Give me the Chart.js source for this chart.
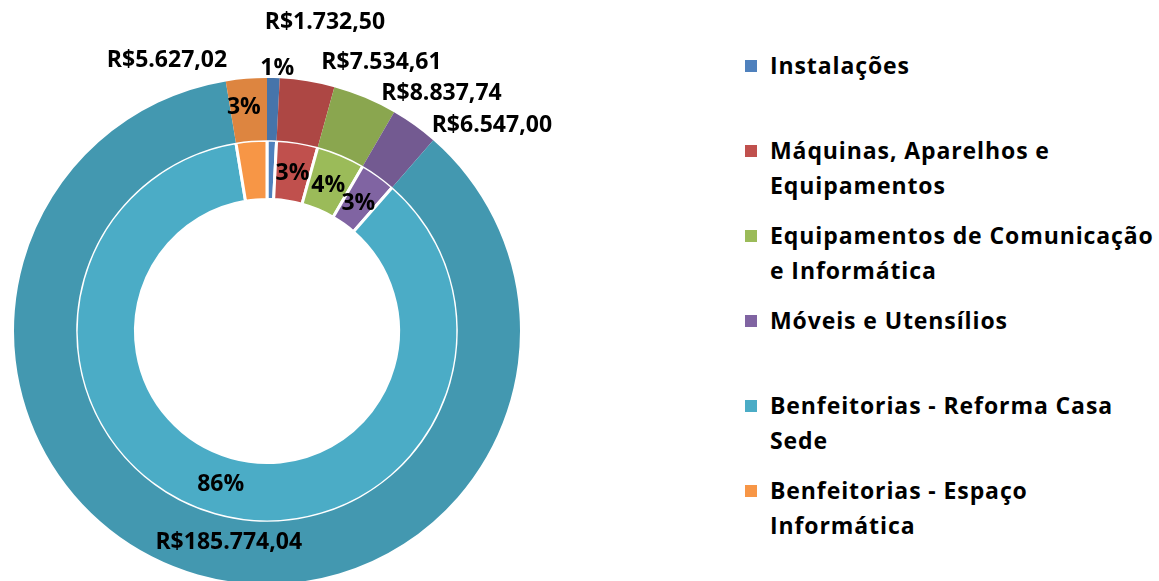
<!DOCTYPE html>
<html>
<head>
<meta charset="utf-8">
<script src="https://cdn.jsdelivr.net/npm/chart.js@4"></script>
<style>
  html, body { margin: 0; padding: 0; background: #fff; overflow: hidden; }
  body { width: 1159px; height: 581px; position: relative; font-family: "Open Sans", sans-serif; }
  #wrap { position: absolute; left: 0; top: 0; width: 600px; height: 590px; }
  #legend { position: absolute; left: 745px; top: 48px; width: 414px; }
  .item { height: 85px; position: relative; padding-left: 25px; font-weight: bold; font-size: 23px; letter-spacing: 0.9px; line-height: 35px; color: #000; }
  .sw { position: absolute; left: 0; top: 12px; width: 12px; height: 12px; }
</style>
</head>
<body>
<div id="wrap"><canvas id="chart"></canvas></div>
<div id="legend"></div>
<script>
const categories = [
  "Instalações",
  "Máquinas, Aparelhos e Equipamentos",
  "Equipamentos de Comunicação e Informática",
  "Móveis e Utensílios",
  "Benfeitorias - Reforma Casa Sede",
  "Benfeitorias - Espaço Informática"
];
const values = [1732.50, 7534.61, 8837.74, 6547.00, 185774.04, 5627.02];

const innerColors = ["#4F81BD", "#C0504D", "#9BBB59", "#8064A2", "#4BACC6", "#F79646"];
const outerColors = ["#4674AA", "#AD4744", "#8AA64F", "#735A91", "#4398B0", "#DD8540"];

// where each label sits: radius as a share of the outer radius, angle shift in degrees
const valuePlace = [
  { r: 1.24, da: 9.2 }, { r: 1.155, da: 13.9 }, { r: 1.165, da: 13.5 },
  { r: 1.205, da: 11.9 }, { r: 0.85, da: -5.6 }, { r: 1.14, da: -15.6 }
];
const pctPlace = [
  { r: 1.04, da: 0.8 }, { r: 0.632, da: 0 }, { r: 0.625, da: 0 },
  { r: 0.62, da: 0 }, { r: 0.632, da: 1 }, { r: 0.89, da: -1.2 }
];

const total = values.reduce((a, b) => a + b, 0);

function brl(v) {
  const parts = v.toFixed(2).split(".");
  return "R$" + parts[0].replace(/\B(?=(\d{3})+(?!\d))/g, ".") + "," + parts[1];
}
const valueTexts = values.map(brl);
const pctTexts = values.map(v => Math.round(v / total * 100) + "%");

const ringLabels = {
  id: "ringLabels",
  afterDatasetsDraw(chart) {
    const ctx = chart.ctx;
    const outerArcs = chart.getDatasetMeta(0).data;
    const innerArcs = chart.getDatasetMeta(1).data;
    const R = outerArcs[0].outerRadius;
    ctx.save();
    ctx.font = 'bold 23px "Open Sans"';
    ctx.fillStyle = "#000";
    ctx.textAlign = "center";
    ctx.textBaseline = "middle";
    function put(arc, place, text) {
      const a = (arc.startAngle + arc.endAngle) / 2 + place.da * Math.PI / 180;
      const r = R * place.r;
      ctx.fillText(text, arc.x + r * Math.cos(a), arc.y + r * Math.sin(a));
    }
    outerArcs.forEach((arc, i) => put(arc, valuePlace[i], valueTexts[i]));
    innerArcs.forEach((arc, i) => put(arc, pctPlace[i], pctTexts[i]));
    ctx.restore();
  }
};

new Chart(document.getElementById("chart"), {
  type: "doughnut",
  data: {
    labels: categories,
    datasets: [
      { data: values, backgroundColor: outerColors, borderWidth: 0, weight: 1.05 },
      { data: values, backgroundColor: innerColors, borderColor: "#fff", borderWidth: 3, weight: 1 }
    ]
  },
  options: {
    responsive: true,
    maintainAspectRatio: false,
    animation: false,
    cutout: "52%",
    layout: { padding: { top: 78, left: 14, right: 80, bottom: 6 } },
    plugins: { legend: { display: false }, tooltip: { enabled: false } }
  },
  plugins: [ringLabels]
});

// legend on the right
const legend = document.getElementById("legend");
categories.forEach((name, i) => {
  const item = document.createElement("div");
  item.className = "item";
  const sw = document.createElement("span");
  sw.className = "sw";
  sw.style.background = innerColors[i];
  item.appendChild(sw);
  item.appendChild(document.createTextNode(name));
  legend.appendChild(item);
});
</script>
</body>
</html>
